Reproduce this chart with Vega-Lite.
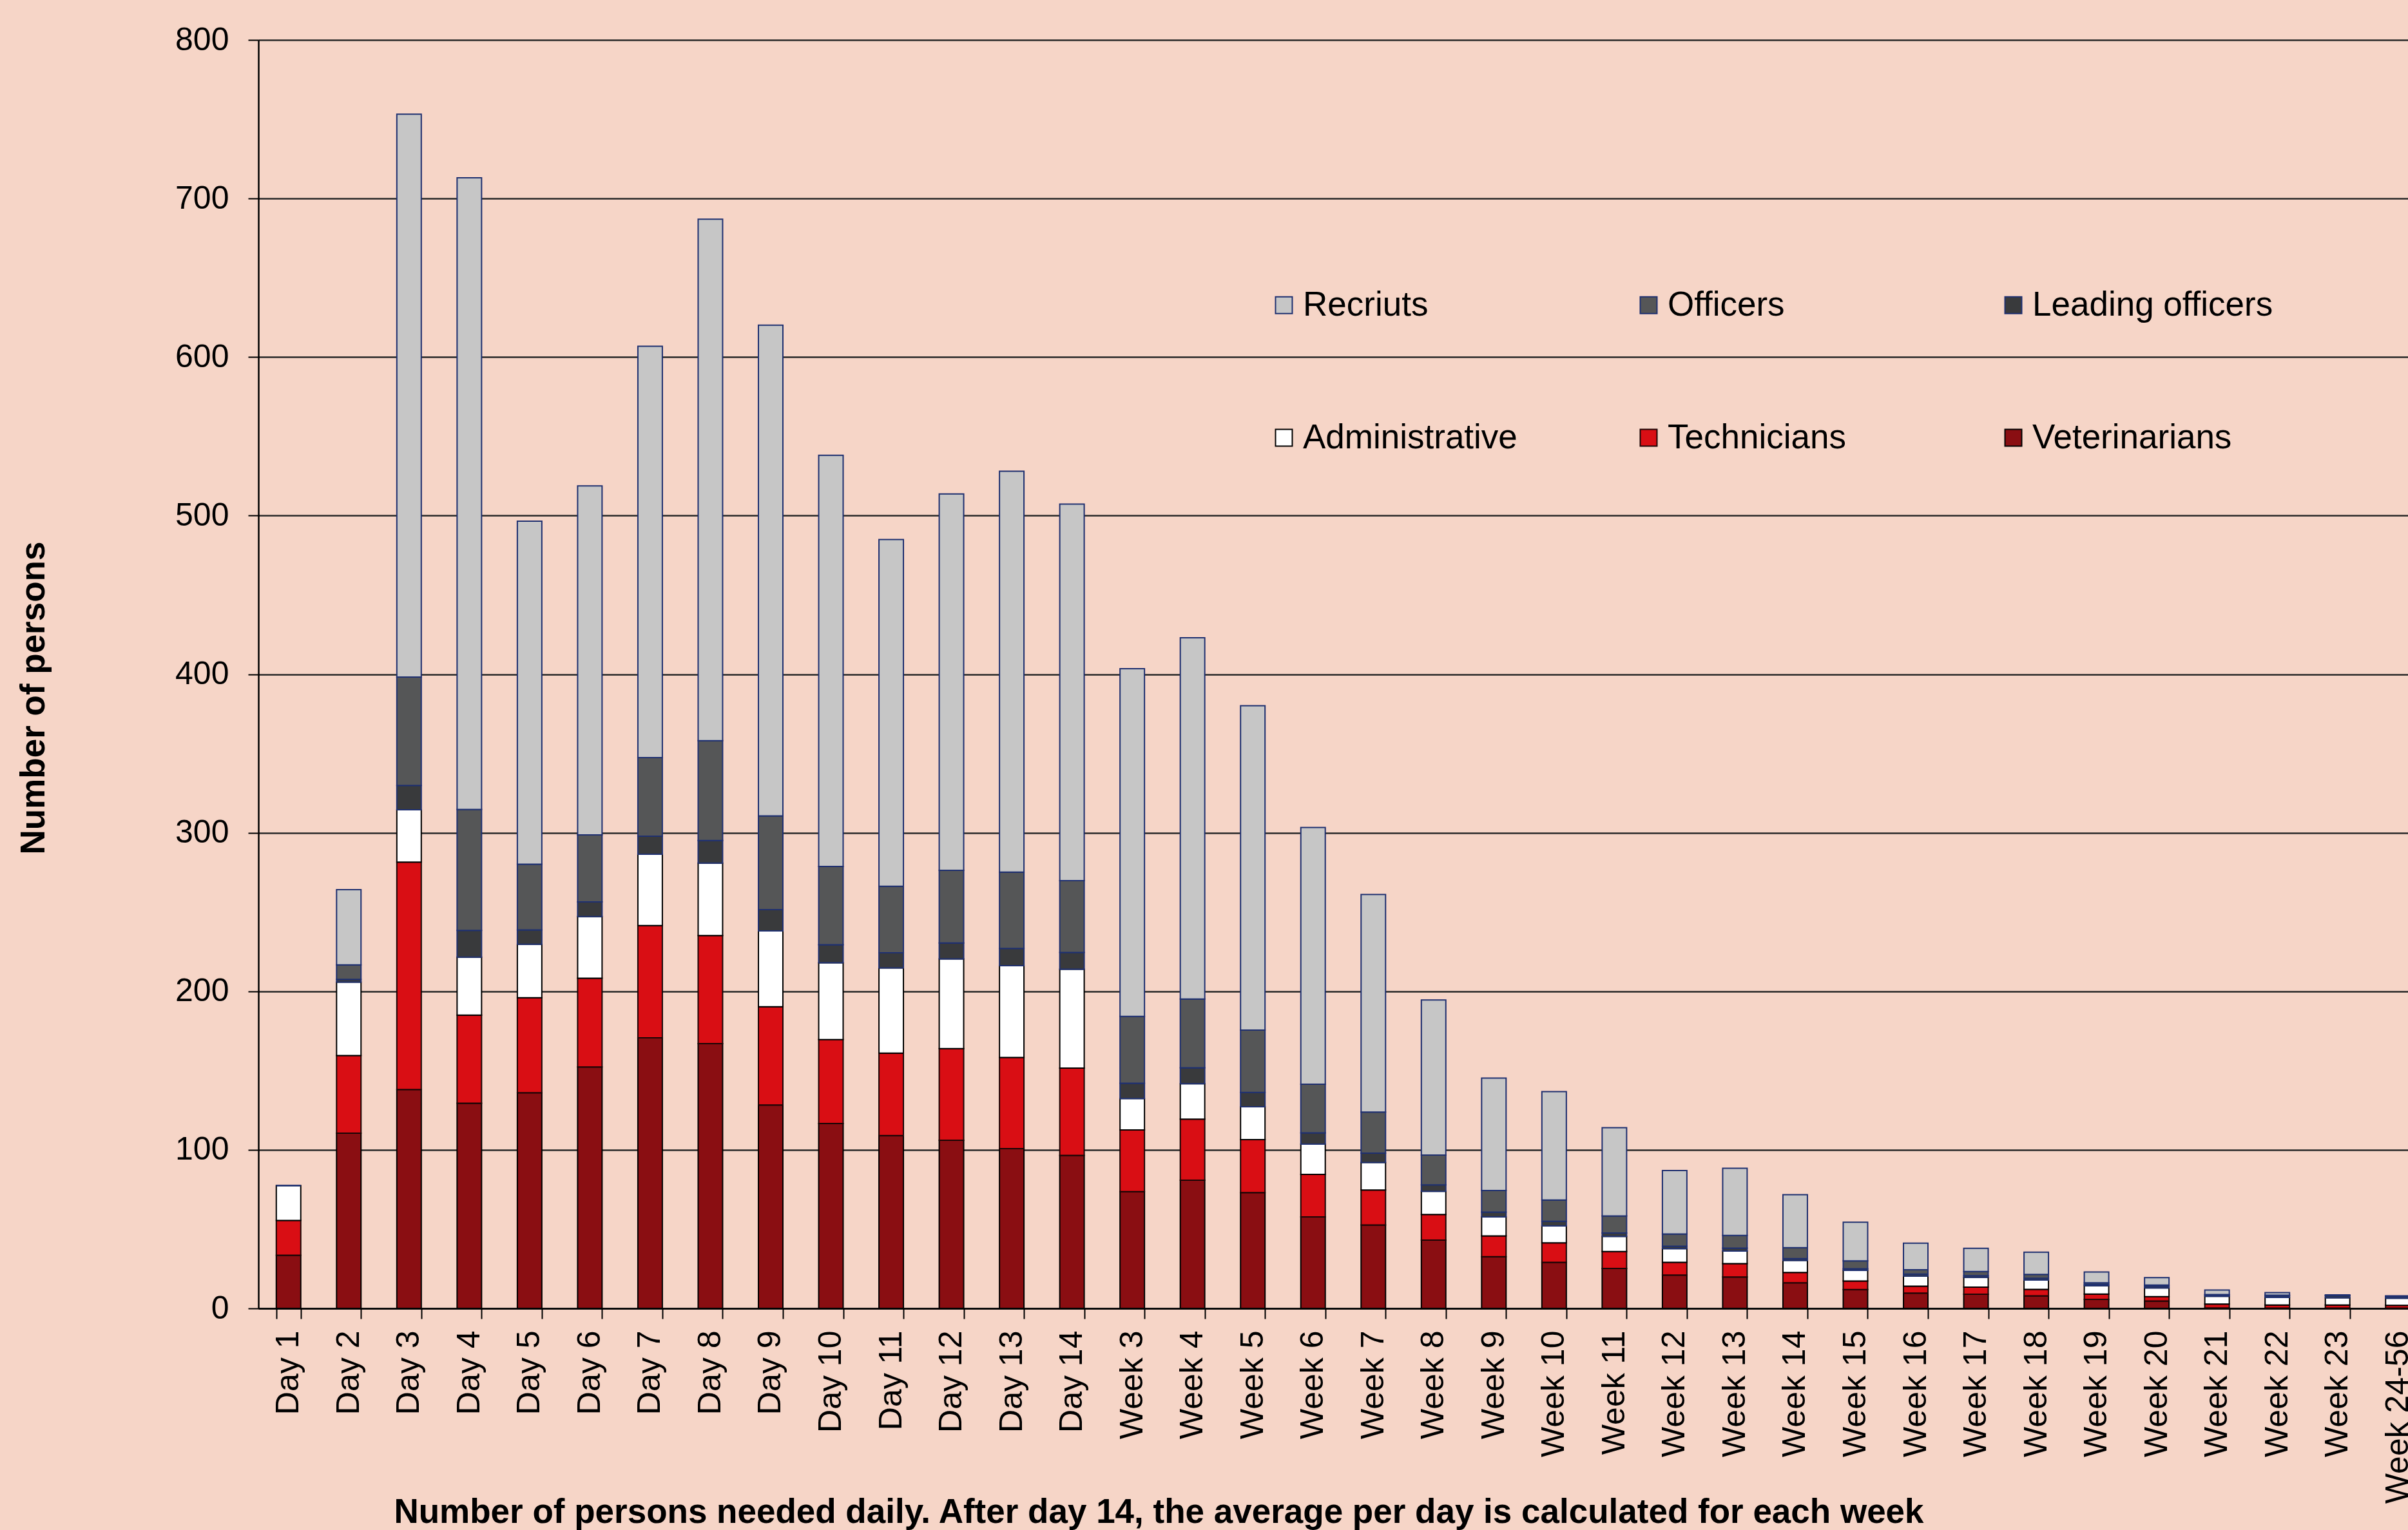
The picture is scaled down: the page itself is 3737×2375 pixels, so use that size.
{
  "$schema": "https://vega.github.io/schema/vega-lite/v6.json",
  "autosize": {"type": "none"},
  "padding": {"left": 401, "top": 62, "right": 0, "bottom": 344},
  "width": 3336,
  "height": 1969,
  "background": "#F6D5C7",
  "config": {"view": {"stroke": null}, "font": "Liberation Sans, Arial, sans-serif"},
  "data": {"values": [
    {"period": "Day 1", "Veterinarians": 33.5, "Technicians": 22, "Administrative": 22, "Leading officers": 0, "Officers": 0, "Recriuts": 0},
    {"period": "Day 2", "Veterinarians": 110.5, "Technicians": 49, "Administrative": 46.3, "Leading officers": 1.7, "Officers": 9.2, "Recriuts": 47.4},
    {"period": "Day 3", "Veterinarians": 138, "Technicians": 143.5, "Administrative": 33, "Leading officers": 15.3, "Officers": 68.4, "Recriuts": 355},
    {"period": "Day 4", "Veterinarians": 129.4, "Technicians": 55.6, "Administrative": 36.5, "Leading officers": 16.9, "Officers": 76.3, "Recriuts": 398.4},
    {"period": "Day 5", "Veterinarians": 136, "Technicians": 59.9, "Administrative": 33.8, "Leading officers": 9, "Officers": 41.4, "Recriuts": 216.4},
    {"period": "Day 6", "Veterinarians": 152.3, "Technicians": 55.9, "Administrative": 38.9, "Leading officers": 9.3, "Officers": 42.2, "Recriuts": 220.1},
    {"period": "Day 7", "Veterinarians": 170.6, "Technicians": 70.8, "Administrative": 45, "Leading officers": 11.4, "Officers": 49.6, "Recriuts": 259.4},
    {"period": "Day 8", "Veterinarians": 167, "Technicians": 68.1, "Administrative": 45.8, "Leading officers": 14.2, "Officers": 62.9, "Recriuts": 328.9},
    {"period": "Day 9", "Veterinarians": 128.3, "Technicians": 61.9, "Administrative": 47.9, "Leading officers": 13.4, "Officers": 59.1, "Recriuts": 309.5},
    {"period": "Day 10", "Veterinarians": 116.6, "Technicians": 52.9, "Administrative": 48.5, "Leading officers": 11.4, "Officers": 49.3, "Recriuts": 259.3},
    {"period": "Day 11", "Veterinarians": 109, "Technicians": 52, "Administrative": 53.7, "Leading officers": 9.6, "Officers": 41.9, "Recriuts": 218.7},
    {"period": "Day 12", "Veterinarians": 106, "Technicians": 57.8, "Administrative": 56.6, "Leading officers": 10.1, "Officers": 45.8, "Recriuts": 237.4},
    {"period": "Day 13", "Veterinarians": 100.8, "Technicians": 57.5, "Administrative": 57.8, "Leading officers": 10.9, "Officers": 48.2, "Recriuts": 252.8},
    {"period": "Day 14", "Veterinarians": 96.5, "Technicians": 55, "Administrative": 62.4, "Leading officers": 10.6, "Officers": 45.3, "Recriuts": 237.5},
    {"period": "Week 3", "Veterinarians": 73.6, "Technicians": 38.9, "Administrative": 19.9, "Leading officers": 9.6, "Officers": 42.2, "Recriuts": 219.3},
    {"period": "Week 4", "Veterinarians": 80.9, "Technicians": 38.4, "Administrative": 22.4, "Leading officers": 10.1, "Officers": 43.3, "Recriuts": 227.9},
    {"period": "Week 5", "Veterinarians": 73, "Technicians": 33.5, "Administrative": 20.7, "Leading officers": 9, "Officers": 39.3, "Recriuts": 204.6},
    {"period": "Week 6", "Veterinarians": 57.7, "Technicians": 26.8, "Administrative": 19.1, "Leading officers": 7.1, "Officers": 30.7, "Recriuts": 161.9},
    {"period": "Week 7", "Veterinarians": 52.6, "Technicians": 22.1, "Administrative": 17.3, "Leading officers": 5.9, "Officers": 25.9, "Recriuts": 137.2},
    {"period": "Week 8", "Veterinarians": 43.1, "Technicians": 16.1, "Administrative": 14.6, "Leading officers": 4.1, "Officers": 18.8, "Recriuts": 97.8},
    {"period": "Week 9", "Veterinarians": 32.6, "Technicians": 13.1, "Administrative": 12, "Leading officers": 3, "Officers": 13.7, "Recriuts": 70.9},
    {"period": "Week 10", "Veterinarians": 29.1, "Technicians": 12.2, "Administrative": 10.7, "Leading officers": 3, "Officers": 13.4, "Recriuts": 68.3},
    {"period": "Week 11", "Veterinarians": 25.2, "Technicians": 10.7, "Administrative": 9.5, "Leading officers": 2.1, "Officers": 10.8, "Recriuts": 55.7},
    {"period": "Week 12", "Veterinarians": 21, "Technicians": 8.1, "Administrative": 8.6, "Leading officers": 1.5, "Officers": 7.7, "Recriuts": 40},
    {"period": "Week 13", "Veterinarians": 19.8, "Technicians": 8.4, "Administrative": 8, "Leading officers": 1.8, "Officers": 8, "Recriuts": 42.4},
    {"period": "Week 14", "Veterinarians": 16.1, "Technicians": 6.6, "Administrative": 7.6, "Leading officers": 1.1, "Officers": 6.9, "Recriuts": 33.4},
    {"period": "Week 15", "Veterinarians": 11.9, "Technicians": 5.4, "Administrative": 6.7, "Leading officers": 1, "Officers": 5, "Recriuts": 24.3},
    {"period": "Week 16", "Veterinarians": 9.6, "Technicians": 4.4, "Administrative": 6.4, "Leading officers": 1.2, "Officers": 2.8, "Recriuts": 16.7},
    {"period": "Week 17", "Veterinarians": 8.9, "Technicians": 4.5, "Administrative": 6.2, "Leading officers": 1, "Officers": 2.7, "Recriuts": 14.6},
    {"period": "Week 18", "Veterinarians": 7.9, "Technicians": 4.1, "Administrative": 5.9, "Leading officers": 1.1, "Officers": 2.4, "Recriuts": 14},
    {"period": "Week 19", "Veterinarians": 5.7, "Technicians": 3.3, "Administrative": 5.3, "Leading officers": 0.8, "Officers": 1, "Recriuts": 6.9},
    {"period": "Week 20", "Veterinarians": 4.7, "Technicians": 2.7, "Administrative": 5.5, "Leading officers": 1.1, "Officers": 0.7, "Recriuts": 4.7},
    {"period": "Week 21", "Veterinarians": 0.3, "Technicians": 2.4, "Administrative": 4.9, "Leading officers": 0.8, "Officers": 0.3, "Recriuts": 2.9},
    {"period": "Week 22", "Veterinarians": 0.2, "Technicians": 1.9, "Administrative": 4.8, "Leading officers": 1, "Officers": 0.4, "Recriuts": 1.7},
    {"period": "Week 23", "Veterinarians": 0.2, "Technicians": 1.9, "Administrative": 4.6, "Leading officers": 1.3, "Officers": 0.2, "Recriuts": 0.3},
    {"period": "Week 24-56", "Veterinarians": 0.2, "Technicians": 1.7, "Administrative": 4.5, "Leading officers": 1, "Officers": 0.3, "Recriuts": 0.2}
  ]},
  "transform": [
    {"fold": ["Veterinarians", "Technicians", "Administrative", "Leading officers", "Officers", "Recriuts"], "as": ["role", "persons"]},
    {"calculate": "indexof(['Veterinarians','Technicians','Administrative','Leading officers','Officers','Recriuts'], datum.role)", "as": "stackIdx"}
  ],
  "mark": {"type": "bar", "strokeWidth": 2},
  "encoding": {
    "x": {
      "field": "period", "type": "nominal", "sort": null,
      "scale": {"range": [0, 3367], "paddingInner": 0.594, "paddingOuter": 0.297},
      "axis": {
        "title": "Number of persons needed daily. After day 14, the average per day is calculated for each week",
        "titleFontSize": 53, "titleFontWeight": "bold", "titleColor": "#000000",
        "titleX": 1397, "titleY": 316, "titleAlign": "center", "titleBaseline": "middle",
        "labelAngle": -90, "labelFontSize": 50, "labelColor": "#000000", "labelPadding": 18,
        "labelAlign": "right", "labelBaseline": "middle", "labelLimit": 1000, "labelOverlap": false,
        "tickBand": "extent", "ticks": true, "tickSize": 16, "tickColor": "#000000", "tickWidth": 2,
        "domainColor": "#000000", "domainWidth": 2.5, "grid": false
      }
    },
    "y": {
      "field": "persons", "type": "quantitative", "stack": "zero",
      "scale": {"domain": [0, 800], "nice": false},
      "axis": {
        "title": "Number of persons",
        "titleFontSize": 53, "titleFontWeight": "bold", "titleColor": "#000000",
        "titleAngle": -90, "titleX": -349, "titleY": 1021, "titleAlign": "center", "titleBaseline": "middle",
        "values": [0, 100, 200, 300, 400, 500, 600, 700, 800],
        "labelFontSize": 50, "labelColor": "#000000", "labelPadding": 30,
        "tickSize": 16, "tickColor": "#000000", "tickWidth": 2,
        "grid": true, "gridColor": "#2a2a2a", "gridWidth": 2.5,
        "domainColor": "#000000", "domainWidth": 2.5
      }
    },
    "color": {
      "field": "role", "type": "nominal",
      "scale": {
        "domain": ["Recriuts", "Officers", "Leading officers", "Administrative", "Technicians", "Veterinarians"],
        "range": ["#C6C6C6", "#555657", "#393A3C", "#FFFFFF", "#D90E14", "#8A0E12"]
      },
      "legend": {
        "orient": "none", "legendX": 1565, "legendY": 385, "direction": "horizontal", "columns": 3,
        "title": null, "symbolType": "square", "symbolSize": 676, "symbolStrokeWidth": 2,
        "labelFontSize": 53, "labelColor": "#000000", "labelOffset": 3, "labelLimit": 1000,
        "columnPadding": 136, "rowPadding": 152, "gridAlign": "all"
      }
    },
    "stroke": {
      "field": "role", "type": "nominal",
      "scale": {
        "domain": ["Recriuts", "Officers", "Leading officers", "Administrative", "Technicians", "Veterinarians"],
        "range": ["#1F3070", "#1F3070", "#1F3070", "#000000", "#1a0505", "#000000"]
      }
    },
    "order": {"field": "stackIdx", "type": "quantitative"}
  }
}
